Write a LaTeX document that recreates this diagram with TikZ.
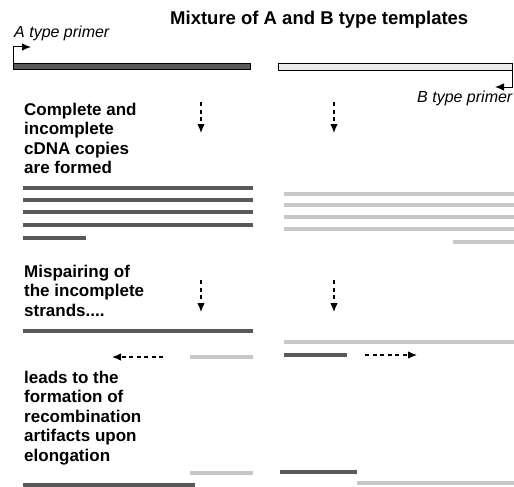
\documentclass[tikz,border=0pt]{standalone}
\usepackage{fontspec}
\setmainfont{Liberation Sans}
\usetikzlibrary{arrows.meta}

\begin{document}
\begin{tikzpicture}[x=1pt,y=-1pt,>={Latex[length=9pt,width=7.5pt]},
  title text/.style={anchor=base west,inner sep=0pt,font=\bfseries\fontsize{18.5}{22}\selectfont},
  step text/.style={anchor=north west,inner sep=0pt,align=left,font=\bfseries\fontsize{17}{19.5}\selectfont},
  primer text/.style={anchor=base west,inner sep=0pt,font=\itshape\fontsize{16}{19}\selectfont},
  dark strand/.style={line width=4.5pt,draw=black!65},
  light strand/.style={line width=4.5pt,draw=black!22},
  step arrow/.style={->,line width=1.2pt,dash pattern=on 4pt off 3.5pt}]
  \useasboundingbox (0,0) rectangle (514,487);

  % labels
  \node[title text] (title) at (170,25) {Mixture of A and B type templates};
  \node[primer text] (a primer) at (14,38) {A type primer};
  \node[primer text] (b primer) at (417,102) {B type primer};
  \node[step text] (copies) at (24,102.6) {Complete and\\incomplete\\cDNA copies\\are formed};
  \node[step text] (mispair) at (24,264.6) {Mispairing of\\the incomplete\\strands....};
  \node[step text] (artifacts) at (24,370.6) {leads to the\\formation of\\recombination\\artifacts upon\\elongation};

  % templates and primers
  \draw[fill=black!65] (13,63) rectangle (250,69);
  \draw[fill=black!8] (278,63) rectangle (512,70);
  \coordinate (a start) at (13,69);
  \coordinate (a tip) at (31,47);
  \coordinate (b start) at (512,70);
  \coordinate (b tip) at (495,87);
  \draw[->,line width=1pt] (a start) |- (a tip);
  \draw[->,line width=1pt] (b start) |- (b tip);

  % first and second strands
  \foreach \y in {188,200,212,225}
    \draw[dark strand] (23,\y) -- (253,\y);
  \draw[dark strand] (23,238) -- (86,238);
  \foreach \y in {194,205,217,229}
    \draw[light strand] (284,\y) -- (514,\y);
  \draw[light strand] (453,242) -- (514,242);

  % mispaired strands
  \draw[dark strand] (23,331) -- (253,331);
  \draw[light strand] (190,357) -- (253,357);
  \draw[light strand] (284,342) -- (514,342);
  \draw[dark strand] (284,355) -- (347,355);

  % recombination artifacts
  \draw[light strand] (190,473) -- (253,473);
  \draw[dark strand] (23,485) -- (195,485);
  \draw[dark strand] (280,472) -- (357,472);
  \draw[light strand] (357,483) -- (514,483);

  % arrows
  \foreach \n/\x in {a/201,b/334}{
    \coordinate (copy \n) at (\x,102);
    \coordinate (copied \n) at (\x,133);
    \coordinate (pair \n) at (\x,280);
    \coordinate (paired \n) at (\x,312);
    \draw[step arrow] (copy \n) -- (copied \n);
    \draw[step arrow] (pair \n) -- (paired \n);
  }
  \coordinate (grow a) at (163,357);
  \coordinate (grown a) at (112,357);
  \coordinate (grow b) at (365,355);
  \coordinate (grown b) at (417,355);
  \draw[step arrow] (grow a) -- (grown a);
  \draw[step arrow] (grow b) -- (grown b);
\end{tikzpicture}
\end{document}
